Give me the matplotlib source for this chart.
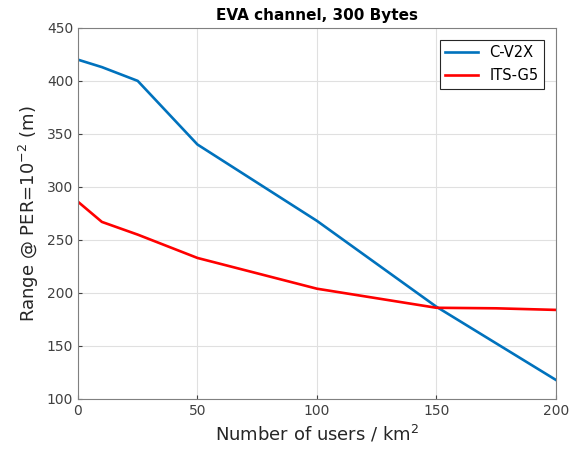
import numpy as np
from matplotlib import pyplot as plt

# data
users = [0, 10, 25, 50, 100, 150, 200]
cv2x = [420, 413, 400, 340, 268, 187, 118]
users_g5 = [0, 10, 25, 50, 100, 150, 175, 200]
itsg5 = [286, 267, 255, 233, 204, 186, 185.5, 184]

fig = plt.figure(figsize=(5.82, 4.57), dpi=100)
ax = fig.add_axes([0.134, 0.127, 0.821, 0.812])

ax.plot(users, cv2x, color='#0072BD', lw=1.9, label='C-V2X')
ax.plot(users_g5, itsg5, color='#FF0000', lw=1.9, label='ITS-G5')

ax.set_xlim(0, 200)
ax.set_ylim(100, 450)
ax.set_xticks(np.arange(0, 201, 50))
ax.set_yticks(np.arange(100, 451, 50))
ax.grid(True, color='#e0e0e0', lw=0.8)
ax.tick_params(direction='in', labelsize=10, colors='#404040', length=3)
for s in ax.spines.values():
    s.set_color('#808080')

ax.set_title('EVA channel, 300 Bytes', fontsize=11, fontweight='bold', pad=6)
ax.set_xlabel('Number of users / km$^2$', fontsize=13, color='#262626')
ax.set_ylabel('Range @ PER=10$^{-2}$ (m)', fontsize=13, color='#262626')

leg = ax.legend(loc='upper right', fontsize=10.5, fancybox=False, framealpha=1,
                edgecolor='#262626', handlelength=2.2, borderaxespad=0.8)
leg.get_frame().set_linewidth(0.8)

plt.savefig('out.png', dpi=100)
